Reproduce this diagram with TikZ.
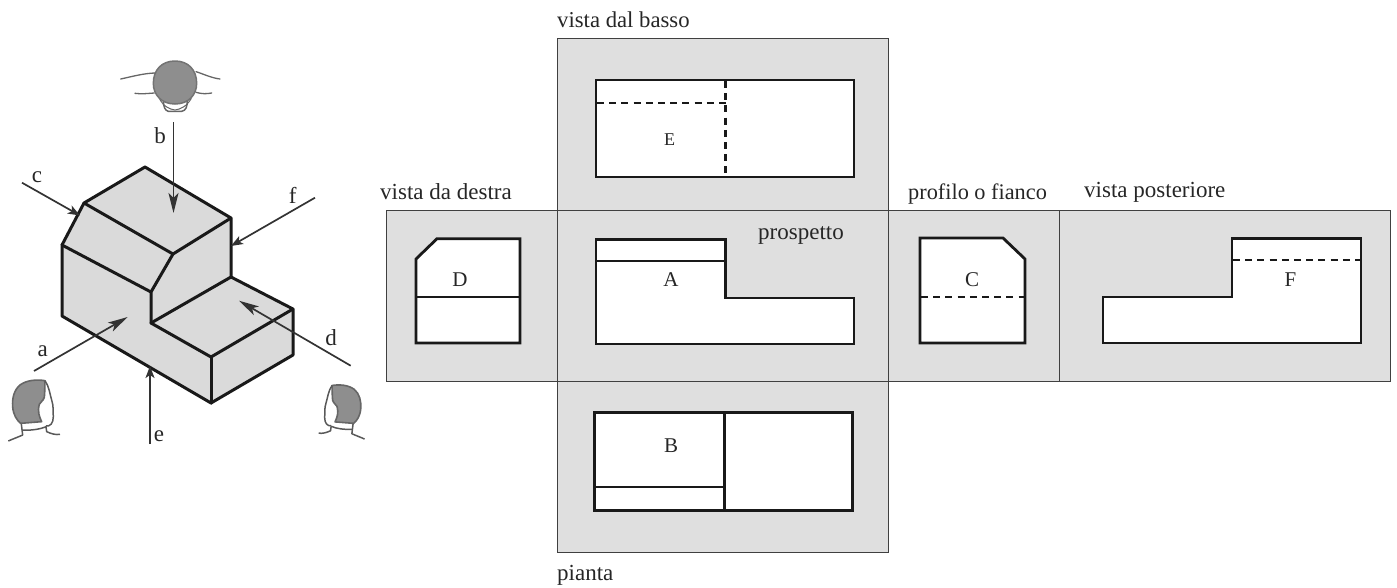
\documentclass[tikz,border=0pt]{standalone}
\usepackage{fontspec}
\setmainfont{Liberation Serif}
\usetikzlibrary{arrows.meta}
\definecolor{panelgrey}{HTML}{DFDFDF}
\definecolor{solidgrey}{HTML}{DADADA}
\definecolor{hairgrey}{HTML}{8E8E8E}
\definecolor{inkgrey}{HTML}{262626}
\newcommand{\myfs}[1]{\fontsize{#1}{#1}\selectfont}
\newcommand{\sidehead}{%
  \path[fill=hairgrey,draw=black!60,line width=1.6pt,line join=round]
    (135,32) .. controls (110,28) and (80,30) .. (60,45)
    .. controls (42,60) and (36,85) .. (38,110)
    .. controls (40,135) and (50,150) .. (62,160)
    -- (125,155) .. controls (118,140) and (112,125) .. (118,103)
    .. controls (125,92) and (135,90) .. (134,70) -- cycle;
  \draw[black!65,line width=1.5pt,line join=round]
    (135,32) .. controls (148,50) and (150,75) .. (155,90)
    .. controls (162,110) and (158,125) .. (160,140)
    .. controls (160,160) and (150,170) .. (138,168);
  \draw[black!65,line width=1.5pt,line join=round]
    (64,162) -- (68,195) .. controls (50,203) and (38,207) .. (25,213);
  \draw[black!65,line width=1.5pt,line join=round]
    (68,180) .. controls (90,182) and (120,178) .. (138,170)
    -- (140,185) .. controls (155,192) and (168,195) .. (180,193);
}
\tikzset{
  panel/.style={fill=panelgrey,draw=black!75,line width=1pt},
  viewshape/.style={fill=white,draw=black!90,line width=2.8pt,line join=miter},
  viewline/.style={draw=black!90,line width=2.4pt},
  hidden/.style={draw=black!90,line width=2.2pt,dash pattern=on 7pt off 5.2pt},
  solidface/.style={fill=solidgrey,draw=none},
  edge/.style={draw=black!90,line width=3pt,line join=round,line cap=round},
  bigarrow/.style={draw=black!80,line width=1.7pt,-{Stealth[length=20pt,width=10pt,inset=5pt]}},
  smallarrow/.style={draw=black!80,line width=1.7pt,-{Stealth[length=12pt,width=9pt,inset=3pt]}},
  caption/.style={anchor=base west,inner sep=0pt,text=inkgrey,font=\myfs{23}},
  letter/.style={anchor=base,inner sep=0pt,text=inkgrey,font=\myfs{21}},
  arrowletter/.style={anchor=base,inner sep=0pt,text=inkgrey,font=\myfs{23}},
  sideline/.style={draw=black!60,line width=1.3pt,line cap=round}
}
\begin{document}
\begin{tikzpicture}[x=1pt,y=-1pt]
\useasboundingbox (0,0) rectangle (1397,587);

% panels
\path[panel] (386,210) rectangle (557,381);
\path[panel] (888,210) rectangle (1059.5,381);
\path[panel] (1059.5,210) rectangle (1390,381);
\path[panel] (557,38.5) rectangle (888,210);
\path[panel] (557,381) rectangle (888,552);
\path[panel] (557,210) rectangle (888,381);

% front views
\path[viewshape] (596,239.5) -- (725.5,239.5) -- (725.5,298) -- (854,298) -- (854,344) -- (596,344) -- cycle;
\path[viewline] (596,261) -- (725.5,261);

\path[viewshape] (416,259) -- (437,238.7) -- (520,238.7) -- (520,343) -- (416,343) -- cycle;
\path[viewline] (416,297) -- (520,297);

\path[viewshape] (920,238) -- (1003,238) -- (1025,259) -- (1025,343) -- (920,343) -- cycle;
\path[hidden] (921,297) -- (1024,297);

\path[viewshape] (1103,297) -- (1232,297) -- (1232,238.5) -- (1361,238.5) -- (1361,343) -- (1103,343) -- cycle;
\path[hidden] (1233,260) -- (1360,260);

\path[viewshape] (596,80) rectangle (854,177);
\path[hidden] (597,103) -- (725.5,103);
\path[hidden] (725.5,81) -- (725.5,176);

\path[viewshape] (594.5,412.7) rectangle (852.5,510.3);
\path[viewline] (724.5,412.7) -- (724.5,510.3);
\path[viewline] (594.5,486.7) -- (724.5,486.7);

% captions
\node[caption,font=\myfs{22.7}] (cbasso) at (557,27) {vista dal basso};
\node[caption] (cdestra) at (380,199) {vista da destra};
\node[caption] (cprosp) at (758,239) {prospetto};
\node[caption,font=\myfs{22.3}] (cprof) at (908,199) {profilo o fianco};
\node[caption] (cpost) at (1084,197) {vista posteriore};
\node[caption] (cpianta) at (557,580) {pianta};

\node[letter] (lA) at (671,286) {A};
\node[letter] (lD) at (460,286) {D};
\node[letter] (lC) at (972,286) {C};
\node[letter] (lF) at (1290.5,286) {F};
\node[letter,font=\myfs{18}] (lE) at (669.5,145) {E};
\node[letter] (lB) at (671,452.5) {B};

% solid: vertices
\coordinate (t) at (145,167);
\coordinate (l) at (84,203);
\coordinate (r) at (231,218);
\coordinate (m) at (173,254);
\coordinate (ll) at (62,245);
\coordinate (s) at (151,292);
\coordinate (bl) at (62,316);
\coordinate (f) at (211,403);
\coordinate (br) at (293,355);
\coordinate (tr) at (293,309);
\coordinate (k) at (231,277);
\coordinate (i) at (151,323);
\coordinate (c) at (211,357);

\path[solidface] (t) -- (r) -- (k) -- (tr) -- (br) -- (f) -- (bl) -- (ll) -- (l) -- cycle;
\path[edge] (l) -- (t) -- (r) -- (k) -- (tr) -- (br) -- (f) -- (bl) -- (ll) -- (l);
\path[edge] (l) -- (m) -- (r);
\path[edge] (m) -- (s) -- (i);
\path[edge] (ll) -- (s);
\path[edge] (k) -- (i) -- (c) -- (tr);
\path[edge] (c) -- (f);

% arrows
\coordinate (a0) at (34,371);   \coordinate (a1) at (127.7,317);
\coordinate (b0) at (173.5,122);\coordinate (b1) at (173.5,213);
\coordinate (c0) at (22,182.7); \coordinate (c1) at (80,215.5);
\coordinate (d0) at (350.7,365.7); \coordinate (d1) at (239,300.7);
\coordinate (e0) at (150,444);  \coordinate (e1) at (150,366);
\coordinate (f0) at (315,197.7);\coordinate (f1) at (231,246);
\draw[bigarrow] (a0) -- (a1);
\draw[bigarrow] (b0) -- (b1);
\draw[bigarrow] (d0) -- (d1);
\draw[smallarrow] (c0) -- (c1);
\draw[smallarrow] (e0) -- (e1);
\draw[smallarrow] (f0) -- (f1);

\node[arrowletter] (la) at (42.7,356.5) {a};
\node[arrowletter] (lb) at (160,143) {b};
\node[arrowletter] (lc) at (37,182) {c};
\node[arrowletter] (ld) at (331,345) {d};
\node[arrowletter] (le) at (159,441) {e};
\node[arrowletter] (lf) at (292.7,203) {f};

% side heads
\begin{scope}[shift={(0,370)},scale=1/3]
\sidehead
\end{scope}
\begin{scope}[shift={(372,376)},xscale=-.296,yscale=.296]
\sidehead
\end{scope}

% top head
\begin{scope}[shift={(130,50)},scale=1/3]
  \draw[black!60,line width=1.5pt] (100,150) .. controls (100,170) and (105,182) .. (115,184)
     -- (155,184) .. controls (168,182) and (172,170) .. (172,150);
  \draw[black!60,line width=1pt] (88,145) .. controls (100,170) and (120,178) .. (135,180) .. controls (150,178) and (170,170) .. (184,145);
  \path[fill=hairgrey,draw=black!55,line width=1.5pt]
     (135,33) .. controls (175,33) and (200,60) .. (200,100)
     .. controls (200,135) and (175,162) .. (135,162)
     .. controls (95,162) and (70,135) .. (70,100)
     .. controls (70,60) and (95,33) .. (135,33) -- cycle;
  \draw[sideline,line width=1.3pt] (-28,87) .. controls (5,80) and (40,70) .. (75,69);
  \draw[sideline,line width=1.3pt] (15,130) .. controls (35,133) and (55,130) .. (73,129);
  \draw[sideline,line width=1.3pt] (198,65) .. controls (220,72) and (245,84) .. (270,87);
  \draw[sideline,line width=1.3pt] (198,127) .. controls (215,132) and (230,132) .. (245,129);
\end{scope}
\end{tikzpicture}
\end{document}
